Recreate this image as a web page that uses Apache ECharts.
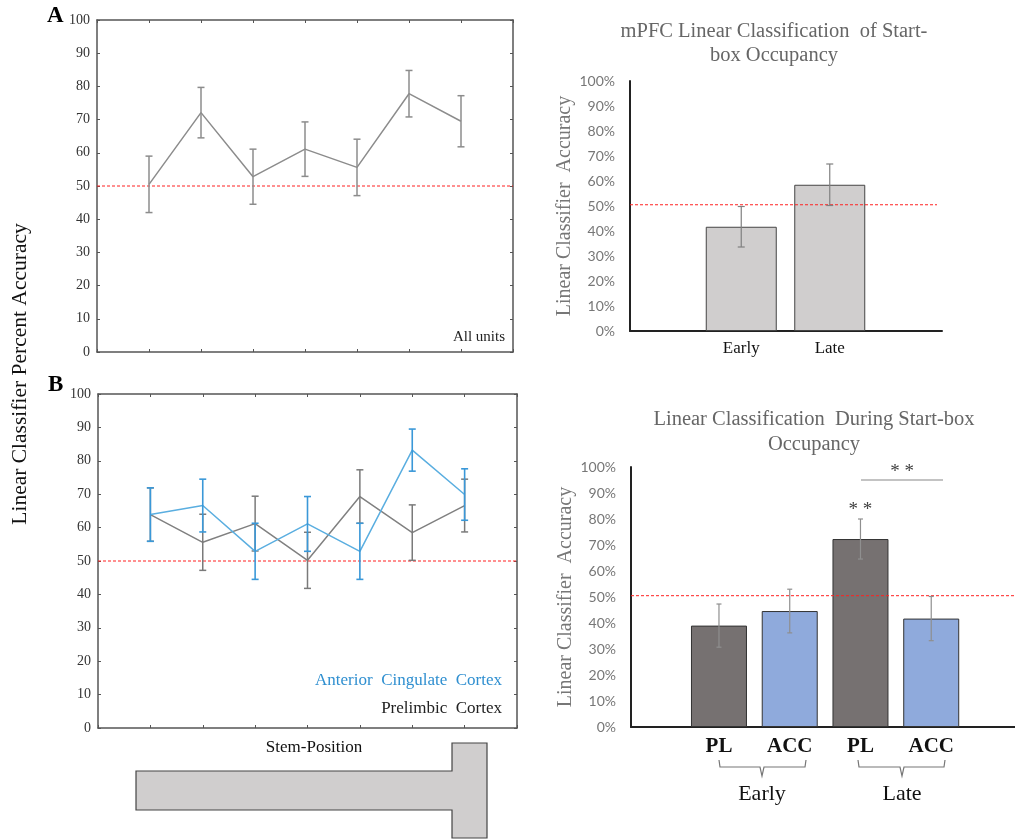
<!DOCTYPE html>
<html><head><meta charset="utf-8">
<script src="https://cdn.jsdelivr.net/npm/echarts@6/dist/echarts.min.js"></script>
<style>html,body{margin:0;padding:0;background:#fff}#c{width:1015px;height:839px}</style>
</head><body><div id="c"></div>
<script>
// ---------- data ----------
const stemPositions = [1, 2, 3, 4, 5, 6, 7];
const allUnitsMean = [50.5, 72.1, 52.8, 61.1, 55.6, 77.8, 69.5];
const allUnitsErr  = [8.5, 7.6, 8.3, 8.2, 8.5, 7.0, 7.7];
const accMean = [63.9, 66.6, 52.9, 61.1, 52.9, 83.2, 69.9];
const accErr  = [8.0, 7.9, 8.4, 8.2, 8.4, 6.3, 7.7];
const plMean  = [63.9, 55.6, 61.2, 50.2, 69.3, 58.5, 66.6];
const plErr   = [8.0, 8.4, 8.2, 8.4, 8.0, 8.3, 7.9];
const chanceLeft = 50;
const chanceRight = 50.5;
const mpfcCats = ['Early', 'Late'];
const mpfcMean = [41.7, 58.5];
const mpfcErr  = [8.1, 8.3];
const regionCats = ['PL-Early', 'ACC-Early', 'PL-Late', 'ACC-Late'];
const regionMean = [39.0, 44.6, 72.3, 41.7];
const regionErr  = [8.3, 8.4, 7.7, 8.5];
const regionColors = ['#767171', '#8faadc', '#767171', '#8faadc'];

const SERIF = '"Liberation Serif", "DejaVu Serif", serif';
const SANS = 'Lato, "Open Sans", sans-serif';

function errorBars(xi, yi, xs, means, errs, color, cap, lw) {
  return {
    type: 'custom', xAxisIndex: xi, yAxisIndex: yi, z: 5, silent: true,
    data: xs.map((x, i) => [x, means[i] - errs[i], means[i] + errs[i]]),
    encode: { x: 0, y: [1, 2] },
    renderItem(params, api) {
      const lo = api.coord([api.value(0), api.value(1)]);
      const hi = api.coord([api.value(0), api.value(2)]);
      const style = { stroke: color, lineWidth: lw || 1.3 };
      return { type: 'group', children: [
        { type: 'line', shape: { x1: lo[0], y1: lo[1], x2: hi[0], y2: hi[1] }, style },
        { type: 'line', shape: { x1: lo[0] - cap, y1: lo[1], x2: lo[0] + cap, y2: lo[1] }, style },
        { type: 'line', shape: { x1: hi[0] - cap, y1: hi[1], x2: hi[0] + cap, y2: hi[1] }, style }
      ]};
    }
  };
}
function refLine(xi, yi, xVal, value, shrinkRight) {
  return {
    type: 'custom', xAxisIndex: xi, yAxisIndex: yi, z: 4, silent: true,
    data: [[xVal, value]],
    renderItem(params, api) {
      const p = api.coord([api.value(0), api.value(1)]);
      const cs = params.coordSys;
      return { type: 'line', shape: { x1: cs.x, y1: p[1], x2: cs.x + cs.width - (shrinkRight || 0), y2: p[1] },
        style: { stroke: '#ff2020', lineWidth: 1, lineDash: [3, 2] } };
    }
  };
}

const frameLine = { show: true, onZero: false, lineStyle: { color: '#555', width: 1.5 } };
function boxX(gi, pos) {
  return { type: 'value', gridIndex: gi, position: pos, min: 0, max: 8, interval: 1,
    axisLine: frameLine, axisTick: { show: true, inside: true, length: 3, lineStyle: { color: '#555' } },
    axisLabel: { show: false }, splitLine: { show: false } };
}
function boxY(gi, pos, labels) {
  return { type: 'value', gridIndex: gi, position: pos, min: 0, max: 100, interval: 10,
    axisLine: frameLine, axisTick: { show: true, inside: true, length: 3, lineStyle: { color: '#555' } },
    axisLabel: { show: labels, fontFamily: SERIF, fontSize: 14, color: '#333', margin: 7 },
    splitLine: { show: false } };
}
const darkLine = { show: true, onZero: false, lineStyle: { color: '#222', width: 2 } };

const option = {
  backgroundColor: '#fff',
  animation: false,
  grid: [
    { left: 97, top: 20, width: 416, height: 332 },      // 0 panel A
    { left: 98, top: 394, width: 419, height: 334 },     // 1 panel B
    { left: 630, top: 81, width: 312, height: 250 },     // 2 top-right frame
    { left: 697, top: 81, width: 177, height: 250 },     // 3 top-right bars
    { left: 631, top: 467, width: 384, height: 260 },    // 4 bottom-right frame
    { left: 683.6, top: 467, width: 283, height: 260 }   // 5 bottom-right bars
  ],
  xAxis: [
    boxX(0, 'bottom'), boxX(0, 'top'),
    boxX(1, 'bottom'), boxX(1, 'top'),
    { type: 'value', gridIndex: 2, min: 0, max: 1, axisLine: darkLine,
      axisTick: { show: false }, axisLabel: { show: false }, splitLine: { show: false } },
    { type: 'category', gridIndex: 3, data: mpfcCats, axisLine: { show: false }, axisTick: { show: false },
      axisLabel: { fontFamily: SERIF, fontSize: 17, color: '#111', margin: 9 } },
    { type: 'value', gridIndex: 4, min: 0, max: 1, axisLine: darkLine,
      axisTick: { show: false }, axisLabel: { show: false }, splitLine: { show: false } },
    { type: 'category', gridIndex: 5, data: regionCats, axisLine: { show: false }, axisTick: { show: false },
      axisLabel: { fontFamily: SERIF, fontSize: 21, fontWeight: 'bold', color: '#111', margin: 9,
        formatter: v => v.split('-')[0] } }
  ],
  yAxis: [
    boxY(0, 'left', true), boxY(0, 'right', false),
    boxY(1, 'left', true), boxY(1, 'right', false),
    { type: 'value', gridIndex: 2, min: 0, max: 100, interval: 10,
      axisLine: darkLine, axisTick: { show: false }, splitLine: { show: false },
      axisLabel: { fontFamily: SANS, fontSize: 14, color: '#777', margin: 15, formatter: '{value}%' },
      name: 'Linear Classifier  Accuracy', nameLocation: 'middle', nameGap: 55,
      nameTextStyle: { fontFamily: SERIF, fontSize: 20, color: '#777' } },
    { type: 'value', gridIndex: 3, min: 0, max: 100, show: false },
    { type: 'value', gridIndex: 4, min: 0, max: 100, interval: 10,
      axisLine: darkLine, axisTick: { show: false }, splitLine: { show: false },
      axisLabel: { fontFamily: SANS, fontSize: 14, color: '#777', margin: 15, formatter: '{value}%' },
      name: 'Linear Classifier  Accuracy', nameLocation: 'middle', nameGap: 55,
      nameTextStyle: { fontFamily: SERIF, fontSize: 20, color: '#777' } },
    { type: 'value', gridIndex: 5, min: 0, max: 100, show: false }
  ],
  series: [
    // Panel A
    refLine(0, 0, 0, chanceLeft, 0),
    { type: 'line', xAxisIndex: 0, yAxisIndex: 0, symbol: 'none', z: 3,
      data: stemPositions.map((x, i) => [x, allUnitsMean[i]]),
      lineStyle: { color: '#8c8c8c', width: 1.5 } },
    errorBars(0, 0, stemPositions, allUnitsMean, allUnitsErr, '#8c8c8c', 3.5, 1.5),
    // Panel B
    refLine(2, 2, 0, chanceLeft, 0),
    { type: 'line', xAxisIndex: 2, yAxisIndex: 2, symbol: 'none', z: 3,
      data: stemPositions.map((x, i) => [x, plMean[i]]),
      lineStyle: { color: '#808080', width: 1.5 } },
    errorBars(2, 2, stemPositions, plMean, plErr, '#7a7a7a', 3.5, 1.5),
    { type: 'line', xAxisIndex: 2, yAxisIndex: 2, symbol: 'none', z: 6,
      data: stemPositions.map((x, i) => {
        const d = { value: [x, accMean[i]] };
        if (i === 5) d.label = { show: true, formatter: '*', position: 'top', distance: 18,
          fontFamily: SERIF, fontSize: 20, color: '#2f8fd0' };
        return d;
      }),
      lineStyle: { color: '#5aaee0', width: 1.5 } },
    Object.assign(errorBars(2, 2, stemPositions, accMean, accErr, '#3a98d8', 3.5, 1.6), { z: 7 }),
    // Top-right
    refLine(4, 4, 0, chanceRight, 5),
    { type: 'bar', xAxisIndex: 5, yAxisIndex: 5, barWidth: 71, data: mpfcMean, z: 2,
      itemStyle: { color: '#d0cece', borderColor: '#444', borderWidth: 1 } },
    errorBars(5, 5, mpfcCats, mpfcMean, mpfcErr, '#808080', 3.5, 1.2),
    // Bottom-right
    refLine(6, 6, 0, chanceRight, 0),
    { type: 'bar', xAxisIndex: 7, yAxisIndex: 7, barWidth: 56, z: 2,
      data: regionMean.map((v, i) => {
        const d = { value: v, itemStyle: { color: regionColors[i] } };
        if (i === 2) d.label = { show: true, formatter: '* *', position: 'top', distance: 20,
          fontFamily: SERIF, fontSize: 19, color: '#404040' };
        return d;
      }),
      itemStyle: { borderColor: '#333', borderWidth: 1 } },
    errorBars(7, 7, regionCats, regionMean, regionErr, '#8f8f8f', 2.5, 1.2)
  ],
  graphic: [
    { type: 'text', left: 47, top: 5, style: { text: 'A', font: 'bold 23px ' + SERIF, fill: '#000' } },
    { type: 'text', left: 48, top: 374, style: { text: 'B', font: 'bold 23px ' + SERIF, fill: '#000' } },
    { type: 'text', x: 20, y: 374, rotation: Math.PI / 2,
      style: { text: 'Linear Classifier Percent Accuracy', font: '21.5px ' + SERIF, fill: '#111',
        align: 'center', verticalAlign: 'middle' } },
    { type: 'text', x: 505, y: 337, style: { text: 'All units', font: '15px ' + SERIF, fill: '#222',
      align: 'right', verticalAlign: 'middle' } },
    { type: 'text', x: 502, y: 681, style: { text: 'Anterior  Cingulate  Cortex', font: '17px ' + SERIF, fill: '#2f8fd0',
      align: 'right', verticalAlign: 'middle' } },
    { type: 'text', x: 502, y: 709, style: { text: 'Prelimbic  Cortex', font: '17px ' + SERIF, fill: '#222',
      align: 'right', verticalAlign: 'middle' } },
    { type: 'text', x: 314, y: 748, style: { text: 'Stem-Position', font: '17px ' + SERIF, fill: '#111',
      align: 'center', verticalAlign: 'middle' } },
    { type: 'polygon', shape: { points: [[136, 771], [452, 771], [452, 743], [487, 743], [487, 838], [452, 838], [452, 810], [136, 810]] },
      style: { fill: '#d0cece', stroke: '#444', lineWidth: 1.2 } },
    { type: 'text', x: 774, y: 44, style: { text: 'mPFC Linear Classification  of Start-\nbox Occupancy',
      font: '20.5px ' + SERIF, fill: '#666', align: 'center', verticalAlign: 'middle', lineHeight: 24 } },
    { type: 'text', x: 814, y: 432, style: { text: 'Linear Classification  During Start-box\nOccupancy',
      font: '20.5px ' + SERIF, fill: '#666', align: 'center', verticalAlign: 'middle', lineHeight: 25 } },
    { type: 'line', shape: { x1: 861, y1: 480, x2: 943, y2: 480 }, style: { stroke: '#888', lineWidth: 1.2 } },
    { type: 'text', x: 902, y: 472, style: { text: '* *', font: '19px ' + SERIF, fill: '#404040',
      align: 'center', verticalAlign: 'middle' } },
    { type: 'polyline', shape: { points: [[719, 760], [720, 767], [760, 767], [762, 776], [764, 767], [805, 767], [806, 760]] },
      style: { stroke: '#777', lineWidth: 1.2, fill: null } },
    { type: 'polyline', shape: { points: [[858, 760], [859, 767], [900, 767], [902, 776], [904, 767], [944, 767], [945, 760]] },
      style: { stroke: '#777', lineWidth: 1.2, fill: null } },
    { type: 'text', x: 762, y: 794, style: { text: 'Early', font: '22px ' + SERIF, fill: '#111',
      align: 'center', verticalAlign: 'middle' } },
    { type: 'text', x: 902, y: 794, style: { text: 'Late', font: '22px ' + SERIF, fill: '#111',
      align: 'center', verticalAlign: 'middle' } }
  ]
};
const chart = echarts.init(document.getElementById('c'), null, { renderer: 'canvas' });
chart.setOption(option);
</script>
</body></html>
